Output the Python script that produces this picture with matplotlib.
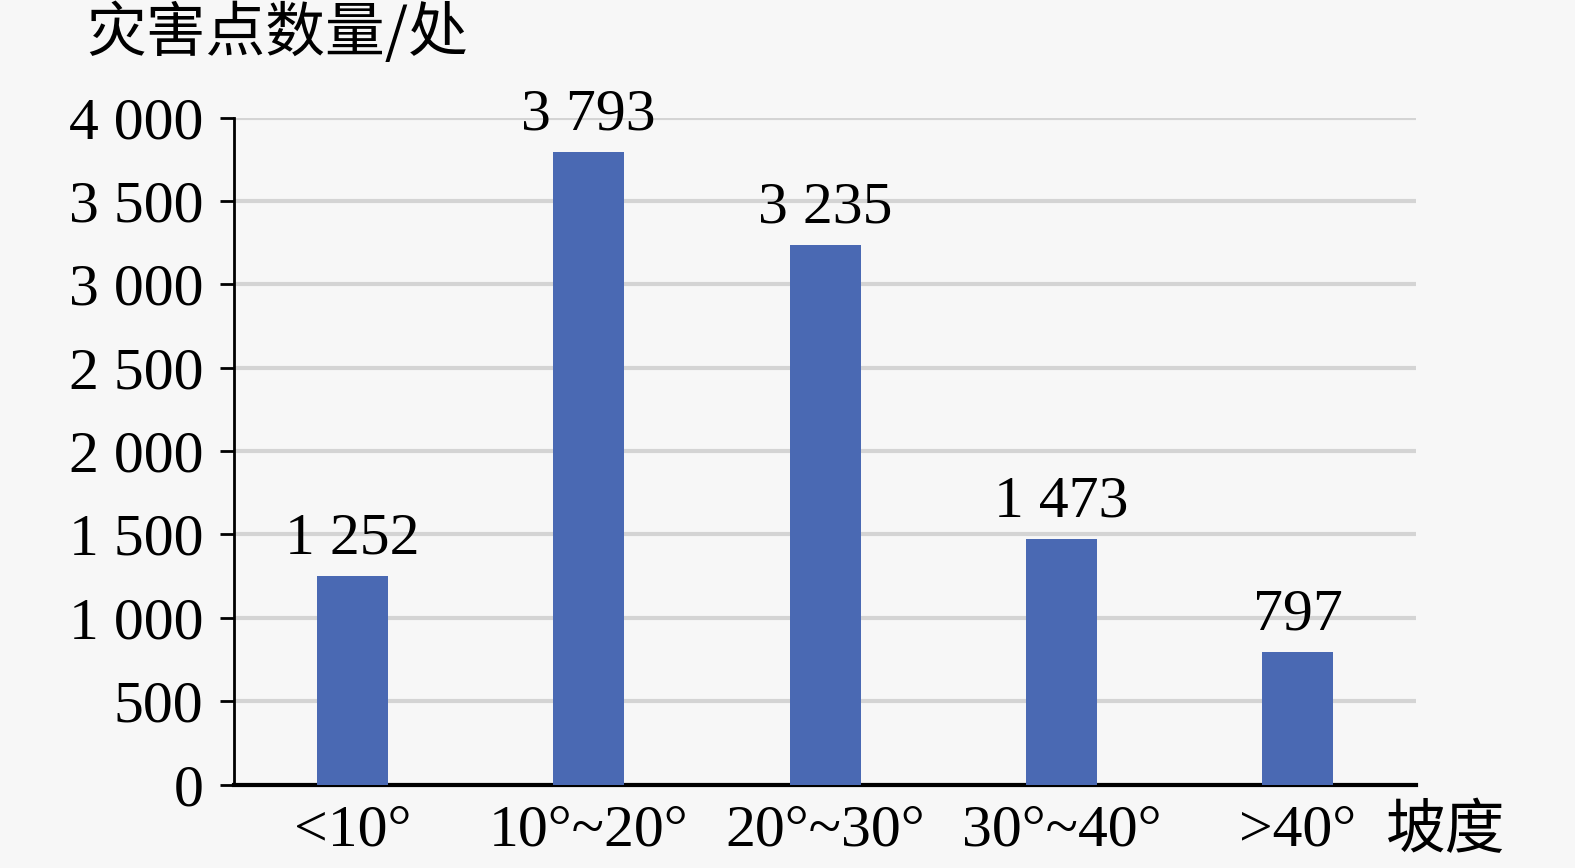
import matplotlib
matplotlib.use('Agg')
import matplotlib.pyplot as plt
from matplotlib.ticker import FuncFormatter

# data
categories = ['<10°', '10°~20°', '20°~30°', '30°~40°', '>40°']
counts = [1252, 3793, 3235, 1473, 797]
y_ticks = [0, 500, 1000, 1500, 2000, 2500, 3000, 3500, 4000]

plt.rcParams['font.family'] = ['Liberation Serif', 'Noto Sans CJK SC']
plt.rcParams['font.size'] = 43


def thousands(v, pos=None):
    return f'{int(v):,}'.replace(',', ' ')


bg = '#f7f7f7'
fig = plt.figure(figsize=(15.75, 8.68), dpi=100, facecolor=bg)
ax = fig.add_axes([0.1486, 0.096, 0.7505, 0.7686], facecolor=bg)

x = range(len(categories))
bars = ax.bar(x, counts, width=0.3, color='#4a69b3', zorder=3)

for xi, v in zip(x, counts):
    ax.annotate(thousands(v), (xi, v), xytext=(0, 7), textcoords='offset points',
                ha='center', va='bottom', fontsize=43)

ax.set_xlim(-0.5, 4.5)
ax.set_ylim(0, 4000)
ax.set_yticks(y_ticks)
ax.yaxis.set_major_formatter(FuncFormatter(thousands))
ax.set_xticks(list(x))
ax.set_xticklabels(categories)

ax.grid(axis='y', color='#d4d4d4', linewidth=3, zorder=0)
ax.set_axisbelow(True)
for s in ['top', 'right']:
    ax.spines[s].set_visible(False)
ax.spines['left'].set_linewidth(2)
ax.spines['bottom'].set_linewidth(3)
ax.tick_params(axis='y', length=10, width=2, pad=12)
ax.tick_params(axis='x', length=0, pad=14)

fig.text(0.176, 0.960, '灾害点数量/处', ha='center', va='center', fontsize=43,
         family=['Noto Sans CJK SC'])
fig.text(0.918, 0.042, '坡度', ha='center', va='center', fontsize=43,
         family=['Noto Sans CJK SC'])

plt.savefig('out.png', dpi=100, facecolor=bg)
plt.close()
